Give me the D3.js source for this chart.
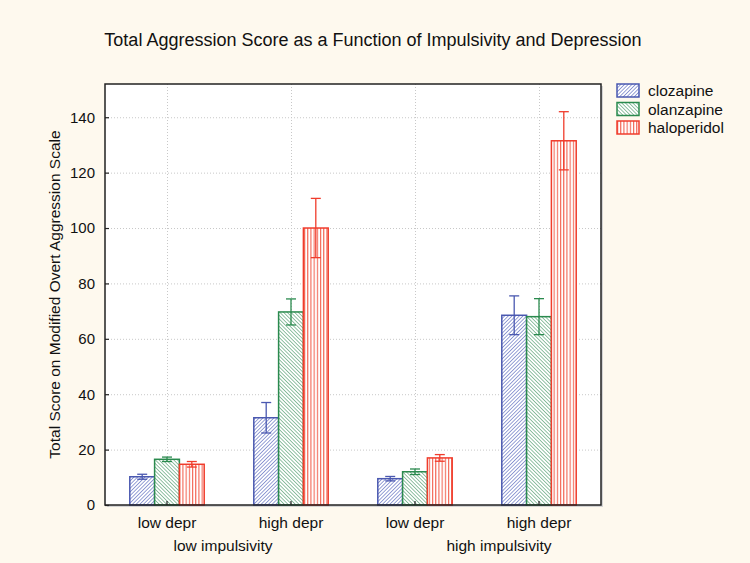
<!DOCTYPE html>
<html>
<head>
<meta charset="utf-8">
<script src="https://cdn.jsdelivr.net/npm/d3@7"></script>
<style>
  body { margin: 0; background: #fef9ee; }
  svg { display: block; font-family: Arial, "Liberation Sans", sans-serif; }
</style>
</head>
<body>
<div class="canvas"></div>
<script>
const depr = ["low depr", "high depr", "low depr", "high depr"];
const impulsivity = ["low impulsivity", "high impulsivity"];
const drugs = ["clozapine", "olanzapine", "haloperidol"];
const yTicks = [0, 20, 40, 60, 80, 100, 120, 140];

// mean per group, one array per drug
const clozapine = [10.2, 31.5, 9.5, 68.5];
const olanzapine = [16.5, 69.7, 12, 68];
const haloperidol = [14.7, 100, 17, 131.5];
// error bar half widths
const clozapineErr = [0.9, 5.5, 0.8, 7];
const olanzapineErr = [0.8, 4.7, 1, 6.5];
const haloperidolErr = [1, 10.7, 1.2, 10.5];

const colors = ["#4a58b0", "#2a8a4e", "#f03c2c"];

const width = 750, height = 563;
const margin = { top: 84, right: 149, bottom: 58, left: 105 };

const svg = d3.select(".canvas").append("svg")
  .attr("width", width).attr("height", height);

svg.append("rect").attr("width", width).attr("height", height).attr("fill", "#fef9ee");

// hatch patterns
const defs = svg.append("defs");
let p = defs.append("pattern").attr("id", "hatch0").attr("patternUnits", "userSpaceOnUse")
  .attr("width", 2.6).attr("height", 3).attr("patternTransform", "rotate(45)");
p.append("rect").attr("width", 2.6).attr("height", 3).attr("fill", "#fff");
p.append("line").attr("x1", 0).attr("y1", 0).attr("x2", 0).attr("y2", 3)
  .attr("stroke", "#5363bb").attr("stroke-width", 1.2);
p = defs.append("pattern").attr("id", "hatch1").attr("patternUnits", "userSpaceOnUse")
  .attr("width", 2.6).attr("height", 3).attr("patternTransform", "rotate(-45)");
p.append("rect").attr("width", 2.6).attr("height", 3).attr("fill", "#fff");
p.append("line").attr("x1", 0).attr("y1", 0).attr("x2", 0).attr("y2", 3)
  .attr("stroke", "#4a9868").attr("stroke-width", 1.2);
p = defs.append("pattern").attr("id", "hatch2").attr("patternUnits", "userSpaceOnUse")
  .attr("width", 3.2).attr("height", 4);
p.append("rect").attr("width", 3.2).attr("height", 4).attr("fill", "#fff");
p.append("line").attr("x1", 0.5).attr("y1", 0).attr("x2", 0.5).attr("y2", 4)
  .attr("stroke", "#f26452").attr("stroke-width", 1.2);

const x0 = d3.scaleBand().domain(d3.range(depr.length))
  .range([margin.left, width - margin.right]).padding(0);
const x1 = d3.scaleBand().domain(drugs)
  .range([x0.bandwidth() * 0.2, x0.bandwidth() * 0.8]);
const y = d3.scaleLinear().domain([0, 152]).range([height - margin.bottom, margin.top]);

const plot = svg.append("g");
// shadow + white plot area
plot.append("rect")
  .attr("x", margin.left + 2).attr("y", margin.top + 2)
  .attr("width", width - margin.left - margin.right)
  .attr("height", height - margin.top - margin.bottom)
  .attr("fill", "#d4d4d4");
plot.append("rect")
  .attr("x", margin.left).attr("y", margin.top)
  .attr("width", width - margin.left - margin.right)
  .attr("height", height - margin.top - margin.bottom)
  .attr("fill", "#fff");

// grid
svg.append("g").selectAll("line").data(yTicks.slice(1)).join("line")
  .attr("x1", margin.left).attr("x2", width - margin.right)
  .attr("y1", d => y(d) + 0.5).attr("y2", d => y(d) + 0.5)
  .attr("stroke", "#c8c8c8").attr("stroke-dasharray", "1,2");
svg.append("g").selectAll("line").data(d3.range(depr.length)).join("line")
  .attr("x1", d => x0(d) + x0.bandwidth() / 2 + 0.5)
  .attr("x2", d => x0(d) + x0.bandwidth() / 2 + 0.5)
  .attr("y1", margin.top).attr("y2", height - margin.bottom)
  .attr("stroke", "#c8c8c8").attr("stroke-dasharray", "1,2");

const series = [
  { name: "clozapine", values: clozapine, err: clozapineErr },
  { name: "olanzapine", values: olanzapine, err: olanzapineErr },
  { name: "haloperidol", values: haloperidol, err: haloperidolErr }
];

series.forEach((s, si) => {
  const g = svg.append("g");
  g.selectAll("rect").data(s.values).join("rect")
    .attr("x", (d, i) => x0(i) + x1(s.name))
    .attr("y", d => y(d))
    .attr("width", x1.bandwidth())
    .attr("height", d => y(0) - y(d))
    .attr("fill", `url(#hatch${si})`)
    .attr("stroke", colors[si]).attr("stroke-width", 1.5);
  const cx = i => x0(i) + x1(s.name) + x1.bandwidth() / 2;
  const eb = g.append("g").attr("stroke", colors[si]).attr("stroke-width", 1.3);
  s.values.forEach((v, i) => {
    const lo = y(v - s.err[i]), hi = y(v + s.err[i]);
    eb.append("line").attr("x1", cx(i)).attr("x2", cx(i)).attr("y1", lo).attr("y2", hi);
    eb.append("line").attr("x1", cx(i) - 5).attr("x2", cx(i) + 5).attr("y1", lo).attr("y2", lo);
    eb.append("line").attr("x1", cx(i) - 5).attr("x2", cx(i) + 5).attr("y1", hi).attr("y2", hi);
  });
});

// frame
svg.append("rect")
  .attr("x", margin.left).attr("y", margin.top)
  .attr("width", width - margin.left - margin.right)
  .attr("height", height - margin.top - margin.bottom)
  .attr("fill", "none").attr("stroke", "#222").attr("stroke-width", 1.5);

// y axis
const yAxis = svg.append("g").attr("transform", `translate(${margin.left},0)`)
  .call(d3.axisLeft(y).tickValues(yTicks).tickSize(-4).tickPadding(10));
yAxis.select(".domain").remove();
yAxis.selectAll("text").attr("font-size", 15).attr("fill", "#111").attr("font-family", "Arial");
yAxis.selectAll(".tick line").attr("stroke", "#222").attr("stroke-width", 1.2);

// x axis
const xAxis = svg.append("g").attr("transform", `translate(0,${height - margin.bottom})`)
  .call(d3.axisBottom(x0).tickFormat(i => depr[i]).tickSize(-4).tickPadding(12));
xAxis.select(".domain").remove();
xAxis.selectAll("text").attr("font-size", 15.5).attr("fill", "#111").attr("font-family", "Arial");
xAxis.selectAll(".tick line").attr("stroke", "#222").attr("stroke-width", 1.2);

// impulsivity labels
const impX = [(x0(0) + x0(1) + x0.bandwidth()) / 2 - 6, (x0(2) + x0(3) + x0.bandwidth()) / 2 + 22];
svg.append("g").selectAll("text").data(impulsivity).join("text")
  .attr("x", (d, i) => impX[i]).attr("y", height - margin.bottom + 46)
  .attr("text-anchor", "middle").attr("font-size", 15.5).attr("fill", "#111")
  .text(d => d);

// title
svg.append("text").attr("x", 373).attr("y", 46)
  .attr("text-anchor", "middle").attr("font-size", 18).attr("fill", "#111")
  .text("Total Aggression Score as a Function of Impulsivity and Depression");

// y label
svg.append("text")
  .attr("transform", `translate(60,${(margin.top + height - margin.bottom) / 2}) rotate(-90)`)
  .attr("text-anchor", "middle").attr("font-size", 15.5).attr("fill", "#111")
  .text("Total Score on Modified Overt Aggression Scale");

// legend
const legend = svg.append("g").attr("transform", "translate(617,84)");
const li = legend.selectAll("g").data(drugs).join("g")
  .attr("transform", (d, i) => `translate(0,${i * 18.5})`);
li.append("rect").attr("width", 22).attr("height", 13)
  .attr("fill", (d, i) => `url(#hatch${i})`)
  .attr("stroke", (d, i) => colors[i]).attr("stroke-width", 1.5);
li.append("text").attr("x", 31).attr("y", 12)
  .attr("font-size", 15.5).attr("fill", "#111").text(d => d);
</script>
</body>
</html>
